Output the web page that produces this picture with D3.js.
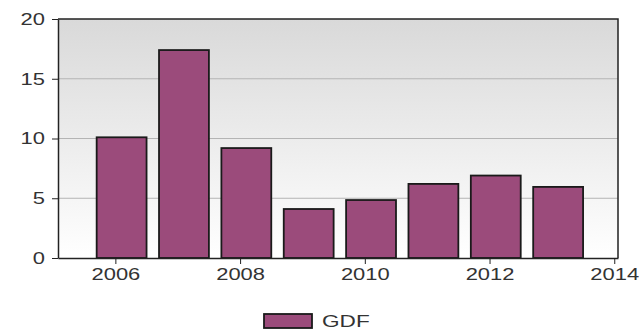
<!DOCTYPE html>
<html><head><meta charset="utf-8">
<script src="https://cdn.jsdelivr.net/npm/d3@7"></script>
<style>body{margin:0;background:#fff;}svg{display:block;}</style>
</head><body>
<svg id="c" width="640" height="334"></svg>
<script>
const years = [2006, 2007, 2008, 2009, 2010, 2011, 2012, 2013];
const gdf = [10.1, 17.4, 9.2, 4.1, 4.85, 6.2, 6.9, 5.95];
const xTicks = [2006, 2008, 2010, 2012, 2014];
const yTicks = [0, 5, 10, 15, 20];
const seriesName = "GDF";

const svg = d3.select("#c");
const L = 58, R = 618, T = 19, B = 258;
const x = d3.scaleLinear().domain([2005.08, 2014.06]).range([L, R]);
const y = d3.scaleLinear().domain([0, 20]).range([B, T]);
const font = "Arial, 'Liberation Sans', sans-serif";
const SX = 1.33;

const defs = svg.append("defs");
const g = defs.append("linearGradient").attr("id", "bg").attr("x1", 0).attr("y1", 0).attr("x2", 0).attr("y2", 1);
g.append("stop").attr("offset", "0%").attr("stop-color", "#d9d9d9");
g.append("stop").attr("offset", "100%").attr("stop-color", "#ffffff");

svg.append("rect").attr("x", L).attr("y", T).attr("width", R - L).attr("height", B - T).attr("fill", "url(#bg)");

// gridlines
svg.append("g").selectAll("line").data(yTicks.filter(d => d > 0 && d < 20)).join("line")
  .attr("x1", L).attr("x2", R).attr("y1", d => y(d)).attr("y2", d => y(d))
  .attr("stroke", "#b4b4b4").attr("stroke-width", 1);

// bars
const bw = 0.8;
svg.append("g").selectAll("rect").data(years).join("rect")
  .attr("x", (d) => x(d + 0.1 - bw / 2))
  .attr("width", (d) => x(d + 0.1 + bw / 2) - x(d + 0.1 - bw / 2))
  .attr("y", (d, i) => y(gdf[i]))
  .attr("height", (d, i) => y(0) - y(gdf[i]))
  .attr("fill", "#9b4b7b").attr("stroke", "#1a1a1a").attr("stroke-width", 1.8);

// frame top and right
svg.append("path").attr("d", `M${L},${T}H${R}V${B}`).attr("fill", "none").attr("stroke", "#222").attr("stroke-width", 1.5);

// y axis
const yAxis = d3.axisLeft(y).tickValues(yTicks).tickSize(6).tickPadding(4).tickSizeOuter(0);
const ya = svg.append("g").attr("transform", `translate(${L},0)`).call(yAxis);
ya.select(".domain").attr("stroke", "#222").attr("stroke-width", 1.5);
ya.selectAll(".tick line").attr("stroke", "#222");
ya.selectAll("text").attr("font-family", font).attr("font-size", 16.5).attr("fill", "#333")
  .attr("x", -13 / SX).attr("transform", `scale(${SX},1)`);

// x axis
const xAxis = d3.axisBottom(x).tickValues(xTicks).tickFormat(d3.format("d")).tickSize(6).tickPadding(3).tickSizeOuter(0);
const xa = svg.append("g").attr("transform", `translate(0,${B})`).call(xAxis);
xa.select(".domain").attr("stroke", "#222").attr("stroke-width", 1.5);
xa.selectAll(".tick line").attr("stroke", "#222");
xa.selectAll("text").attr("font-family", font).attr("font-size", 16.5).attr("fill", "#333")
  .attr("dy", null).attr("y", 22).attr("transform", `scale(${SX},1)`);

// legend
svg.append("rect").attr("x", 264).attr("y", 314).attr("width", 48).attr("height", 14)
  .attr("fill", "#9b4b7b").attr("stroke", "#1a1a1a").attr("stroke-width", 1.8);
svg.append("text").attr("x", 322 / SX).attr("y", 327).text(seriesName)
  .attr("transform", `scale(${SX},1)`)
  .attr("font-family", font).attr("font-size", 17).attr("fill", "#333");
</script>
</body></html>
